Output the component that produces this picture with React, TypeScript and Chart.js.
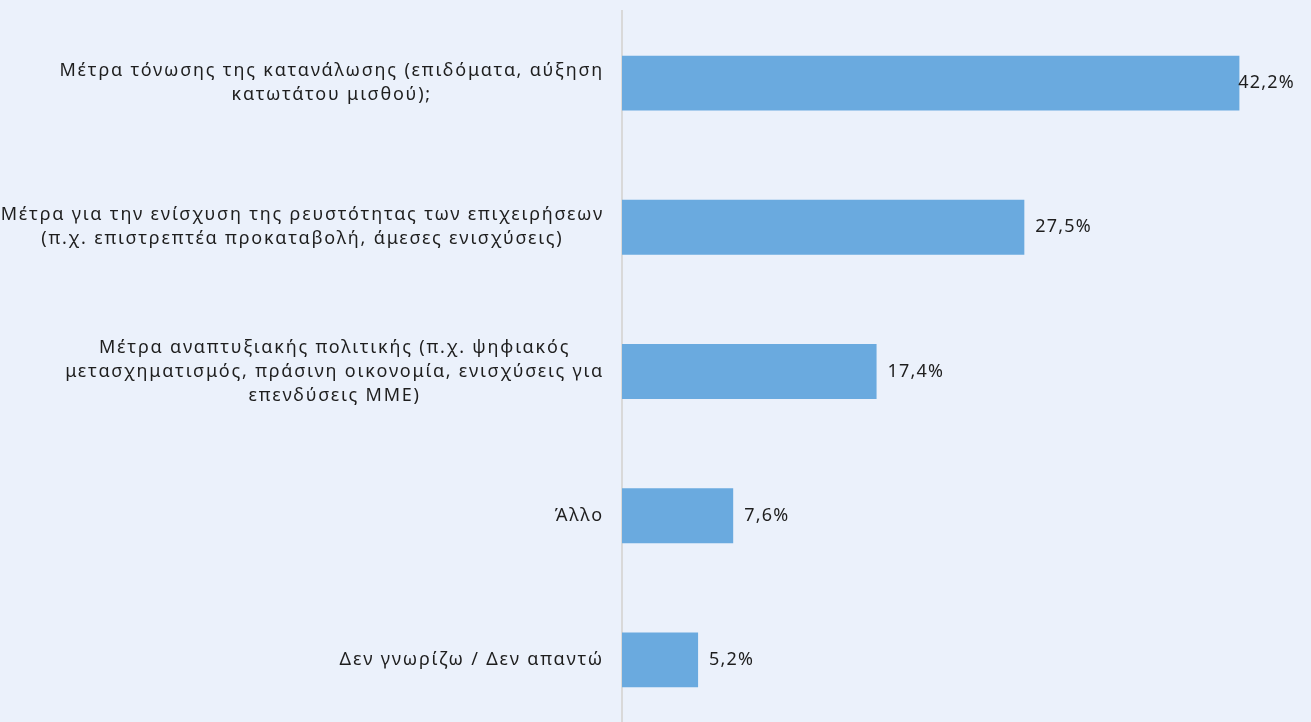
import React, { useEffect, useRef } from "react";
import { Chart, registerables } from "chart.js";

Chart.register(...registerables);

const categories: string[][] = [
  ["Μέτρα τόνωσης της κατανάλωσης (επιδόματα, αύξηση", "κατωτάτου μισθού);"],
  ["Μέτρα για την ενίσχυση της ρευστότητας των επιχειρήσεων", "(π.χ. επιστρεπτέα προκαταβολή, άμεσες ενισχύσεις)"],
  ["Μέτρα αναπτυξιακής πολιτικής (π.χ. ψηφιακός", "μετασχηματισμός, πράσινη οικονομία, ενισχύσεις για", "επενδύσεις ΜΜΕ)"],
  ["Άλλο"],
  ["Δεν γνωρίζω / Δεν απαντώ"],
];
const values: number[] = [42.2, 27.5, 17.4, 7.6, 5.2];

const BG = "#EBF1FB";
const BAR = "#6AAADF";
const TEXT = "#1E1E1E";
const FONT = '18px "Noto Sans", sans-serif';

const fmt = (v: number) => v.toFixed(1).replace(".", ",") + "%";

export default function App() {
  const ref = useRef<HTMLCanvasElement | null>(null);

  useEffect(() => {
    if (!ref.current) return;
    const bgPlugin = {
      id: "bgFill",
      beforeDraw(chart: any) {
        const c = chart.ctx;
        c.save();
        c.fillStyle = BG;
        c.fillRect(0, 0, chart.width, chart.height);
        c.restore();
      },
    };
    const labelPlugin = {
      id: "customLabels",
      afterDraw(chart: any) {
        const c = chart.ctx;
        const y = chart.scales.y;
        const area = chart.chartArea;
        c.save();
        c.font = FONT;
        c.fillStyle = TEXT;
        c.textBaseline = "middle";
        (c as any).letterSpacing = "1.8px";
        const lh = 24;
        const rightEdge = area.left - 18;
        categories.forEach((lines, i) => {
          const cy = y.getPixelForTick(i);
          const widest = Math.max(...lines.map((l) => c.measureText(l).width));
          const cx = rightEdge - widest / 2;
          c.textAlign = "center";
          lines.forEach((l, j) => {
            const ly = cy + (j - (lines.length - 1) / 2) * lh;
            c.fillText(l, cx, ly);
          });
        });
        const meta = chart.getDatasetMeta(0);
        c.textAlign = "left";
        (c as any).letterSpacing = "1.2px";
        meta.data.forEach((bar: any, i: number) => {
          const t = fmt(values[i]);
          const w = c.measureText(t).width;
          let x = bar.x + 11;
          if (x + w > area.right) x = area.right - w;
          c.fillText(t, x, bar.y);
        });
        c.restore();
      },
    };
    const chart = new Chart(ref.current, {
      type: "bar",
      data: {
        labels: categories.map((c) => c.join(" ")),
        datasets: [
          {
            data: values,
            backgroundColor: BAR,
            borderWidth: 0,
            categoryPercentage: 1,
            barPercentage: 0.381,
          },
        ],
      },
      options: {
        indexAxis: "y",
        animation: false,
        responsive: false,
        layout: { padding: { left: 622, right: 16, top: 11, bottom: 0 } },
        plugins: { legend: { display: false }, tooltip: { enabled: false } },
        scales: {
          x: { display: false, min: 0, max: 46 },
          y: {
            grid: { display: false },
            ticks: { display: false },
            border: { display: true, color: "#D9D9D9", width: 2 },
            afterFit: (s: any) => {
              s.width = 0;
            },
          },
        },
      },
      plugins: [bgPlugin, labelPlugin],
    });
    return () => chart.destroy();
  }, []);

  return (
    <div
      style={{
        position: "absolute",
        top: 0,
        left: 0,
        width: 1311,
        height: 722,
        overflow: "hidden",
        background: BG,
      }}
    >
      <canvas ref={ref} width={1311} height={732} style={{ display: "block" }} />
    </div>
  );
}
